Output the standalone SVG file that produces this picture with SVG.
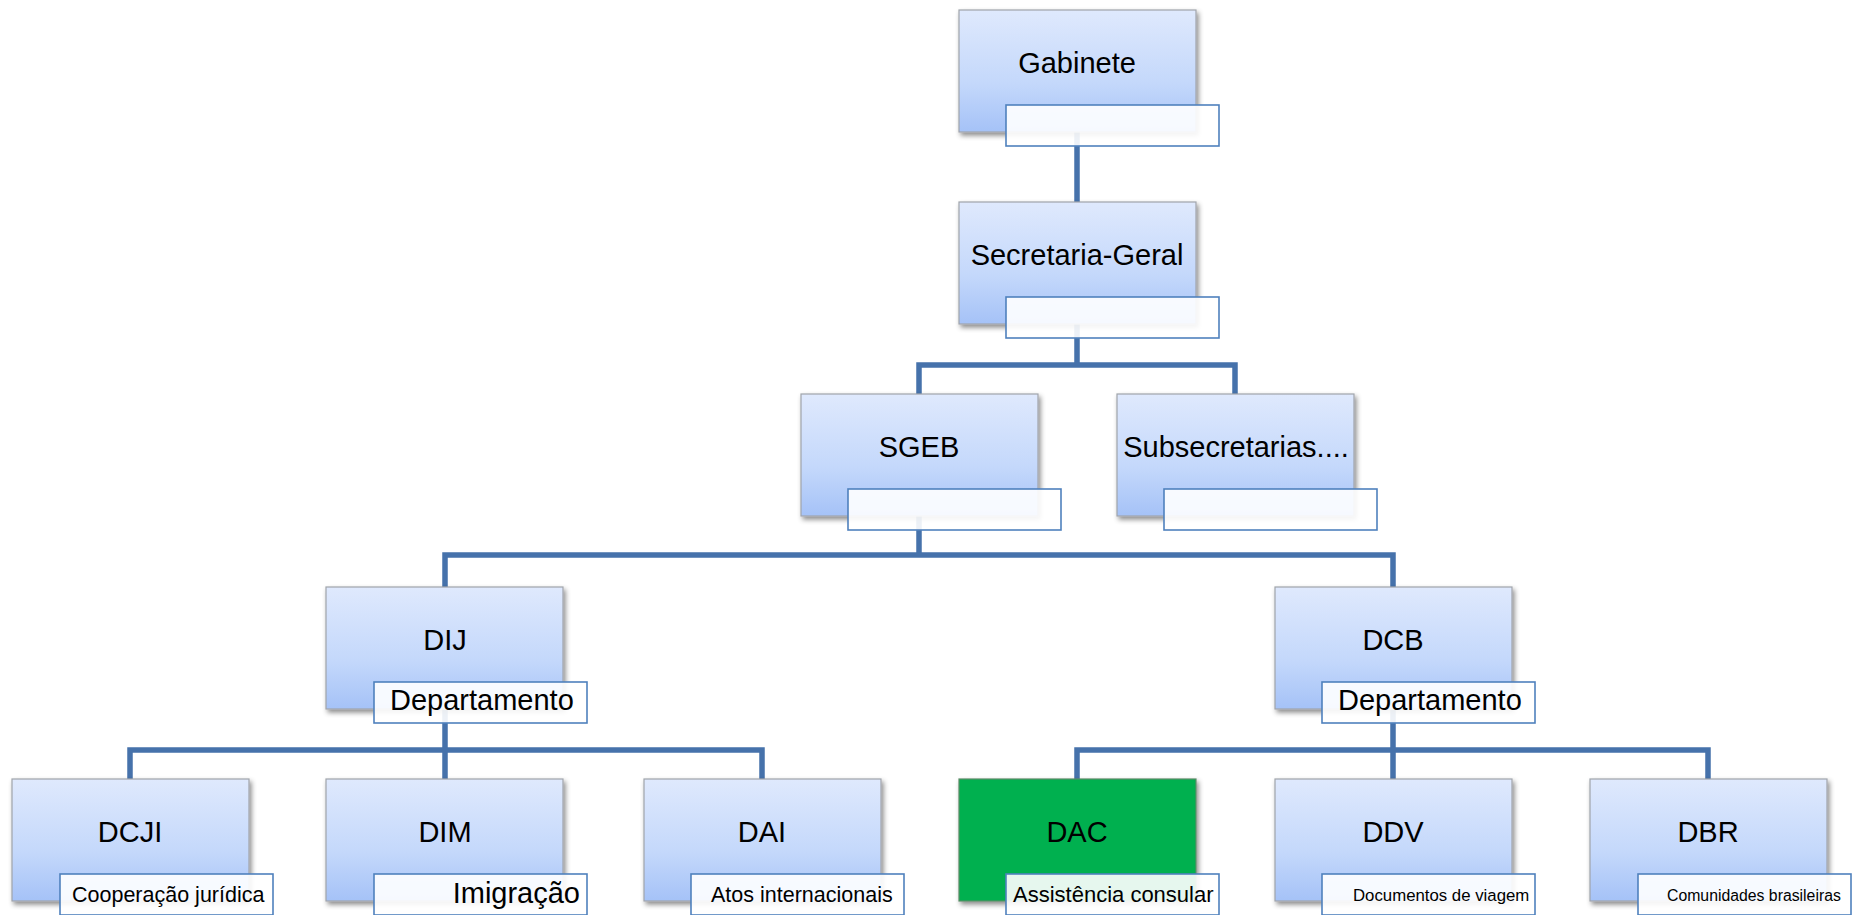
<svg xmlns="http://www.w3.org/2000/svg" width="1853" height="915" viewBox="0 0 1853 915">
<defs>
<linearGradient id="bg" x1="0" y1="0" x2="0" y2="1">
<stop offset="0" stop-color="#dfe9fd"/>
<stop offset="0.6" stop-color="#c4d8fb"/>
<stop offset="1" stop-color="#a5c2f7"/>
</linearGradient>
<filter id="sh" x="-10%" y="-10%" width="125%" height="130%">
<feDropShadow dx="2" dy="3" stdDeviation="2.5" flood-color="#000" flood-opacity="0.45"/>
</filter>
</defs>
<style>
.box{fill:url(#bg);stroke:#a0a4ab;stroke-width:1.2;filter:url(#sh)}
.green{fill:#00b050;stroke:#5a8a66;stroke-width:1.2;filter:url(#sh)}
.lab{fill:#ffffff;fill-opacity:0.9;stroke:#4f81bd;stroke-width:1.6}
.t{font-family:"Liberation Sans",Arial,sans-serif;font-size:29px;fill:#000;text-anchor:middle}
.s{font-family:"Liberation Sans",Arial,sans-serif;fill:#000}
.c{fill:none;stroke:#4672ab;stroke-width:5.5;stroke-linejoin:miter;stroke-linecap:butt}
</style>
<rect width="1853" height="915" fill="#ffffff"/>
<g id="connectors">
<path class="c" d="M1077,132 V202"/>
<path class="c" d="M1077,324 V365 M919,394 V365 H1235 V394"/>
<path class="c" d="M919,516 V555 M445,587 V555 H1393 V587"/>
<path class="c" d="M445,709 V779 M130,779 V750 H762 V779"/>
<path class="c" d="M1393,709 V779 M1077,779 V750 H1708 V779"/>
</g>
<g id="gabinete">
<rect class="box" x="959" y="10" width="237" height="122"/>
<rect class="lab" x="1006" y="105" width="213" height="41"/>
<text class="t" x="1077" y="73">Gabinete</text>
</g>
<g id="secretaria-geral">
<rect class="box" x="959" y="202" width="237" height="122"/>
<rect class="lab" x="1006" y="297" width="213" height="41"/>
<text class="t" x="1077" y="265">Secretaria-Geral</text>
</g>
<g id="sgeb">
<rect class="box" x="801" y="394" width="237" height="122"/>
<rect class="lab" x="848" y="489" width="213" height="41"/>
<text class="t" x="919" y="457">SGEB</text>
</g>
<g id="subsecretarias">
<rect class="box" x="1117" y="394" width="237" height="122"/>
<rect class="lab" x="1164" y="489" width="213" height="41"/>
<text class="t" x="1236" y="457">Subsecretarias....</text>
</g>
<g id="dij">
<rect class="box" x="326" y="587" width="237" height="122"/>
<rect class="lab" x="374" y="682" width="213" height="41"/>
<text class="t" x="445" y="650">DIJ</text>
<text class="s" x="390" y="710" font-size="29">Departamento</text>
</g>
<g id="dcb">
<rect class="box" x="1275" y="587" width="237" height="122"/>
<rect class="lab" x="1322" y="682" width="213" height="41"/>
<text class="t" x="1393" y="650">DCB</text>
<text class="s" x="1338" y="710" font-size="29">Departamento</text>
</g>
<g id="dcji">
<rect class="box" x="12" y="779" width="237" height="122"/>
<rect class="lab" x="60" y="874" width="213" height="41"/>
<text class="t" x="130" y="842">DCJI</text>
<text class="s" x="72" y="902" font-size="21.5">Cooperação jurídica</text>
</g>
<g id="dim">
<rect class="box" x="326" y="779" width="237" height="122"/>
<rect class="lab" x="374" y="874" width="213" height="41"/>
<text class="t" x="445" y="842">DIM</text>
<text class="s" x="580" y="903" font-size="29" text-anchor="end">Imigração</text>
</g>
<g id="dai">
<rect class="box" x="644" y="779" width="237" height="122"/>
<rect class="lab" x="691" y="874" width="213" height="41"/>
<text class="t" x="762" y="842">DAI</text>
<text class="s" x="711" y="902" font-size="21.5">Atos internacionais</text>
</g>
<g id="dac">
<rect class="green" x="959" y="779" width="237" height="122"/>
<rect class="lab" x="1006" y="874" width="213" height="41"/>
<text class="t" x="1077" y="842">DAC</text>
<text class="s" x="1013" y="902" font-size="22">Assistência consular</text>
</g>
<g id="ddv">
<rect class="box" x="1275" y="779" width="237" height="122"/>
<rect class="lab" x="1322" y="874" width="213" height="41"/>
<text class="t" x="1393" y="842">DDV</text>
<text class="s" x="1353" y="901" font-size="16.8">Documentos de viagem</text>
</g>
<g id="dbr">
<rect class="box" x="1590" y="779" width="237" height="122"/>
<rect class="lab" x="1638" y="874" width="213" height="41"/>
<text class="t" x="1708" y="842">DBR</text>
<text class="s" x="1667" y="901" font-size="15.8">Comunidades brasileiras</text>
</g>
</svg>
